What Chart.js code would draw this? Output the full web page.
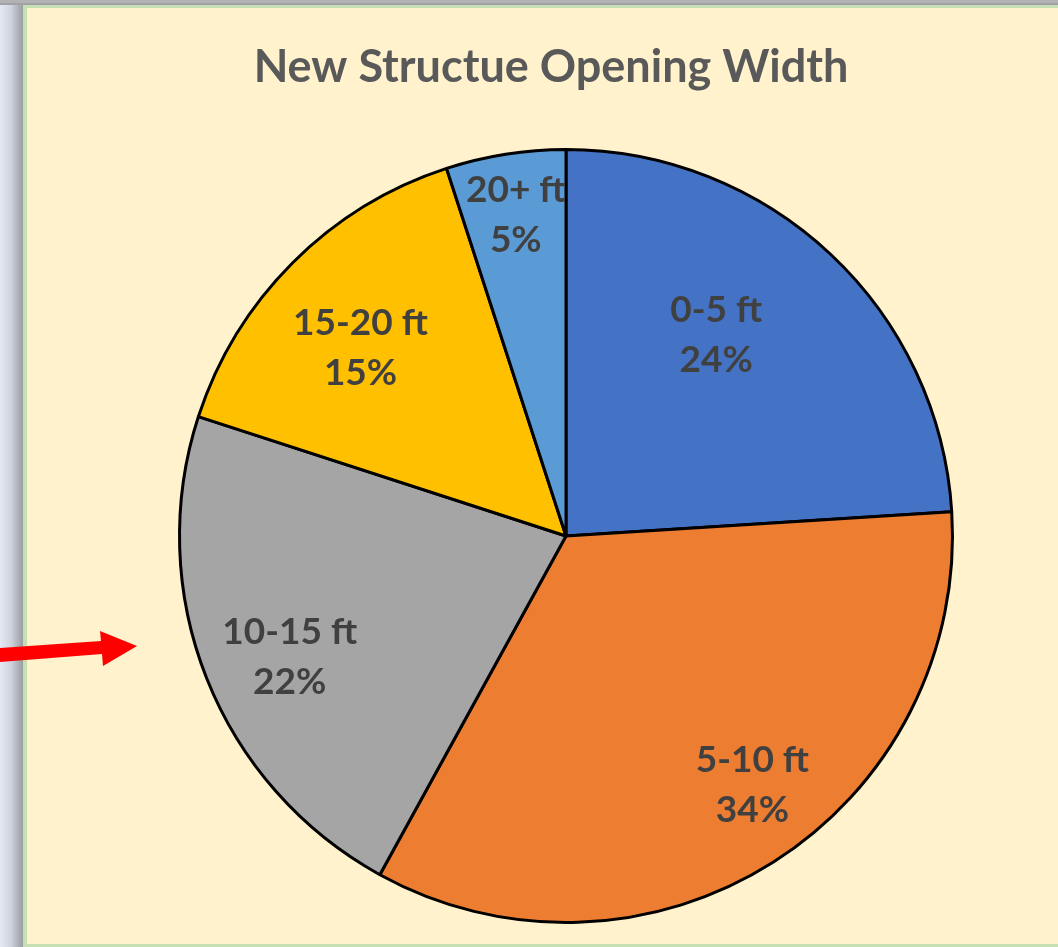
<!DOCTYPE html>
<html>
<head>
<meta charset="utf-8">
<script src="https://cdn.jsdelivr.net/npm/chart.js@4.4.0/dist/chart.umd.min.js"></script>
<style>
    html, body { margin: 0; padding: 0; background: #ffffff; overflow: hidden; }
    #openingChart { display: block; }
</style>
</head>
<body>
<canvas id="openingChart" width="1058" height="947"></canvas>
<script>
const chartTitle = 'New Structue Opening Width';
const categories = ['0-5 ft', '5-10 ft', '10-15 ft', '15-20 ft', '20+ ft'];
const shares = [24, 34, 22, 15, 5];

const sliceColors = ['#4472C4', '#ED7D31', '#A5A5A5', '#FFC000', '#5B9BD5'];

// where each label sits inside its slice: fraction of radius, angle nudge in degrees
const labelSpots = [
    { r: 0.65, da: -6.5 },
    { r: 0.805, da: -4.4 },
    { r: 0.78, da: -2.0 },
    { r: 0.72, da: -2.6 },
    { r: 0.84, da: 0.1 }
];

// window shadow, green frame and cream fill behind the pie
const framePlugin = {
    id: 'frame',
    beforeDraw(chart) {
        const { ctx, width, height } = chart;
        ctx.save();
        const side = ctx.createLinearGradient(0, 0, 24, 0);
        side.addColorStop(0, '#e4e9f3');
        side.addColorStop(0.45, '#cfd4de');
        side.addColorStop(0.85, '#a4a7ae');
        side.addColorStop(1, '#989aa0');
        ctx.fillStyle = side;
        ctx.fillRect(0, 0, 24, height);
        ctx.fillStyle = '#b3b3b6';
        ctx.fillRect(0, 0, width, 4);
        ctx.fillStyle = '#a2a2a6';
        ctx.fillRect(0, 3, width, 2);
        ctx.fillStyle = '#c6e0b4';
        ctx.fillRect(23, 5, width - 23, height - 5);
        ctx.fillStyle = '#FFF2CC';
        ctx.fillRect(27, 8, width - 27, height - 11);

        ctx.fillStyle = '#595959';
        ctx.font = 'bold 45px Lato';
        ctx.textAlign = 'center';
        ctx.textBaseline = 'middle';
        ctx.fillText(chartTitle, 551, 67);
        ctx.restore();
    }
};

// category name and percentage in two lines inside every slice
const sliceLabels = {
    id: 'sliceLabels',
    afterDatasetsDraw(chart) {
        const { ctx } = chart;
        const meta = chart.getDatasetMeta(0);
        ctx.save();
        ctx.fillStyle = '#404040';
        ctx.font = 'bold 37px Lato';
        ctx.textAlign = 'center';
        ctx.textBaseline = 'middle';
        meta.data.forEach((arc, i) => {
            const p = arc.getProps(['x', 'y', 'startAngle', 'endAngle', 'outerRadius'], true);
            const spot = labelSpots[i];
            const mid = (p.startAngle + p.endAngle) / 2 + spot.da * Math.PI / 180;
            const cx = p.x + Math.cos(mid) * p.outerRadius * spot.r;
            const cy = p.y + Math.sin(mid) * p.outerRadius * spot.r;
            ctx.fillText(categories[i], cx, cy - 25);
            ctx.fillText(shares[i] + '%', cx, cy + 25);
        });
        ctx.restore();
    }
};

// red pointer arrow on the left edge
const arrowPlugin = {
    id: 'arrow',
    afterDraw(chart) {
        const { ctx } = chart;
        ctx.save();
        ctx.fillStyle = '#FF0000';
        ctx.beginPath();
        ctx.moveTo(0, 648);
        ctx.lineTo(101, 641);
        ctx.lineTo(100, 631);
        ctx.lineTo(137, 646);
        ctx.lineTo(103, 666);
        ctx.lineTo(102, 654);
        ctx.lineTo(0, 662);
        ctx.closePath();
        ctx.fill();
        ctx.restore();
    }
};

const ctx = document.getElementById('openingChart').getContext('2d');

new Chart(ctx, {
    type: 'pie',
    data: {
        labels: categories,
        datasets: [{
            data: shares,
            backgroundColor: sliceColors,
            borderColor: '#000000',
            borderWidth: 3
        }]
    },
    options: {
        responsive: false,
        animation: false,
        devicePixelRatio: 1,
        layout: {
            padding: { top: 148, bottom: 23, left: 74, right: 0 }
        },
        plugins: {
            legend: { display: false },
            tooltip: { enabled: false },
            title: { display: false }
        }
    },
    plugins: [framePlugin, sliceLabels, arrowPlugin]
});
</script>
</body>
</html>
